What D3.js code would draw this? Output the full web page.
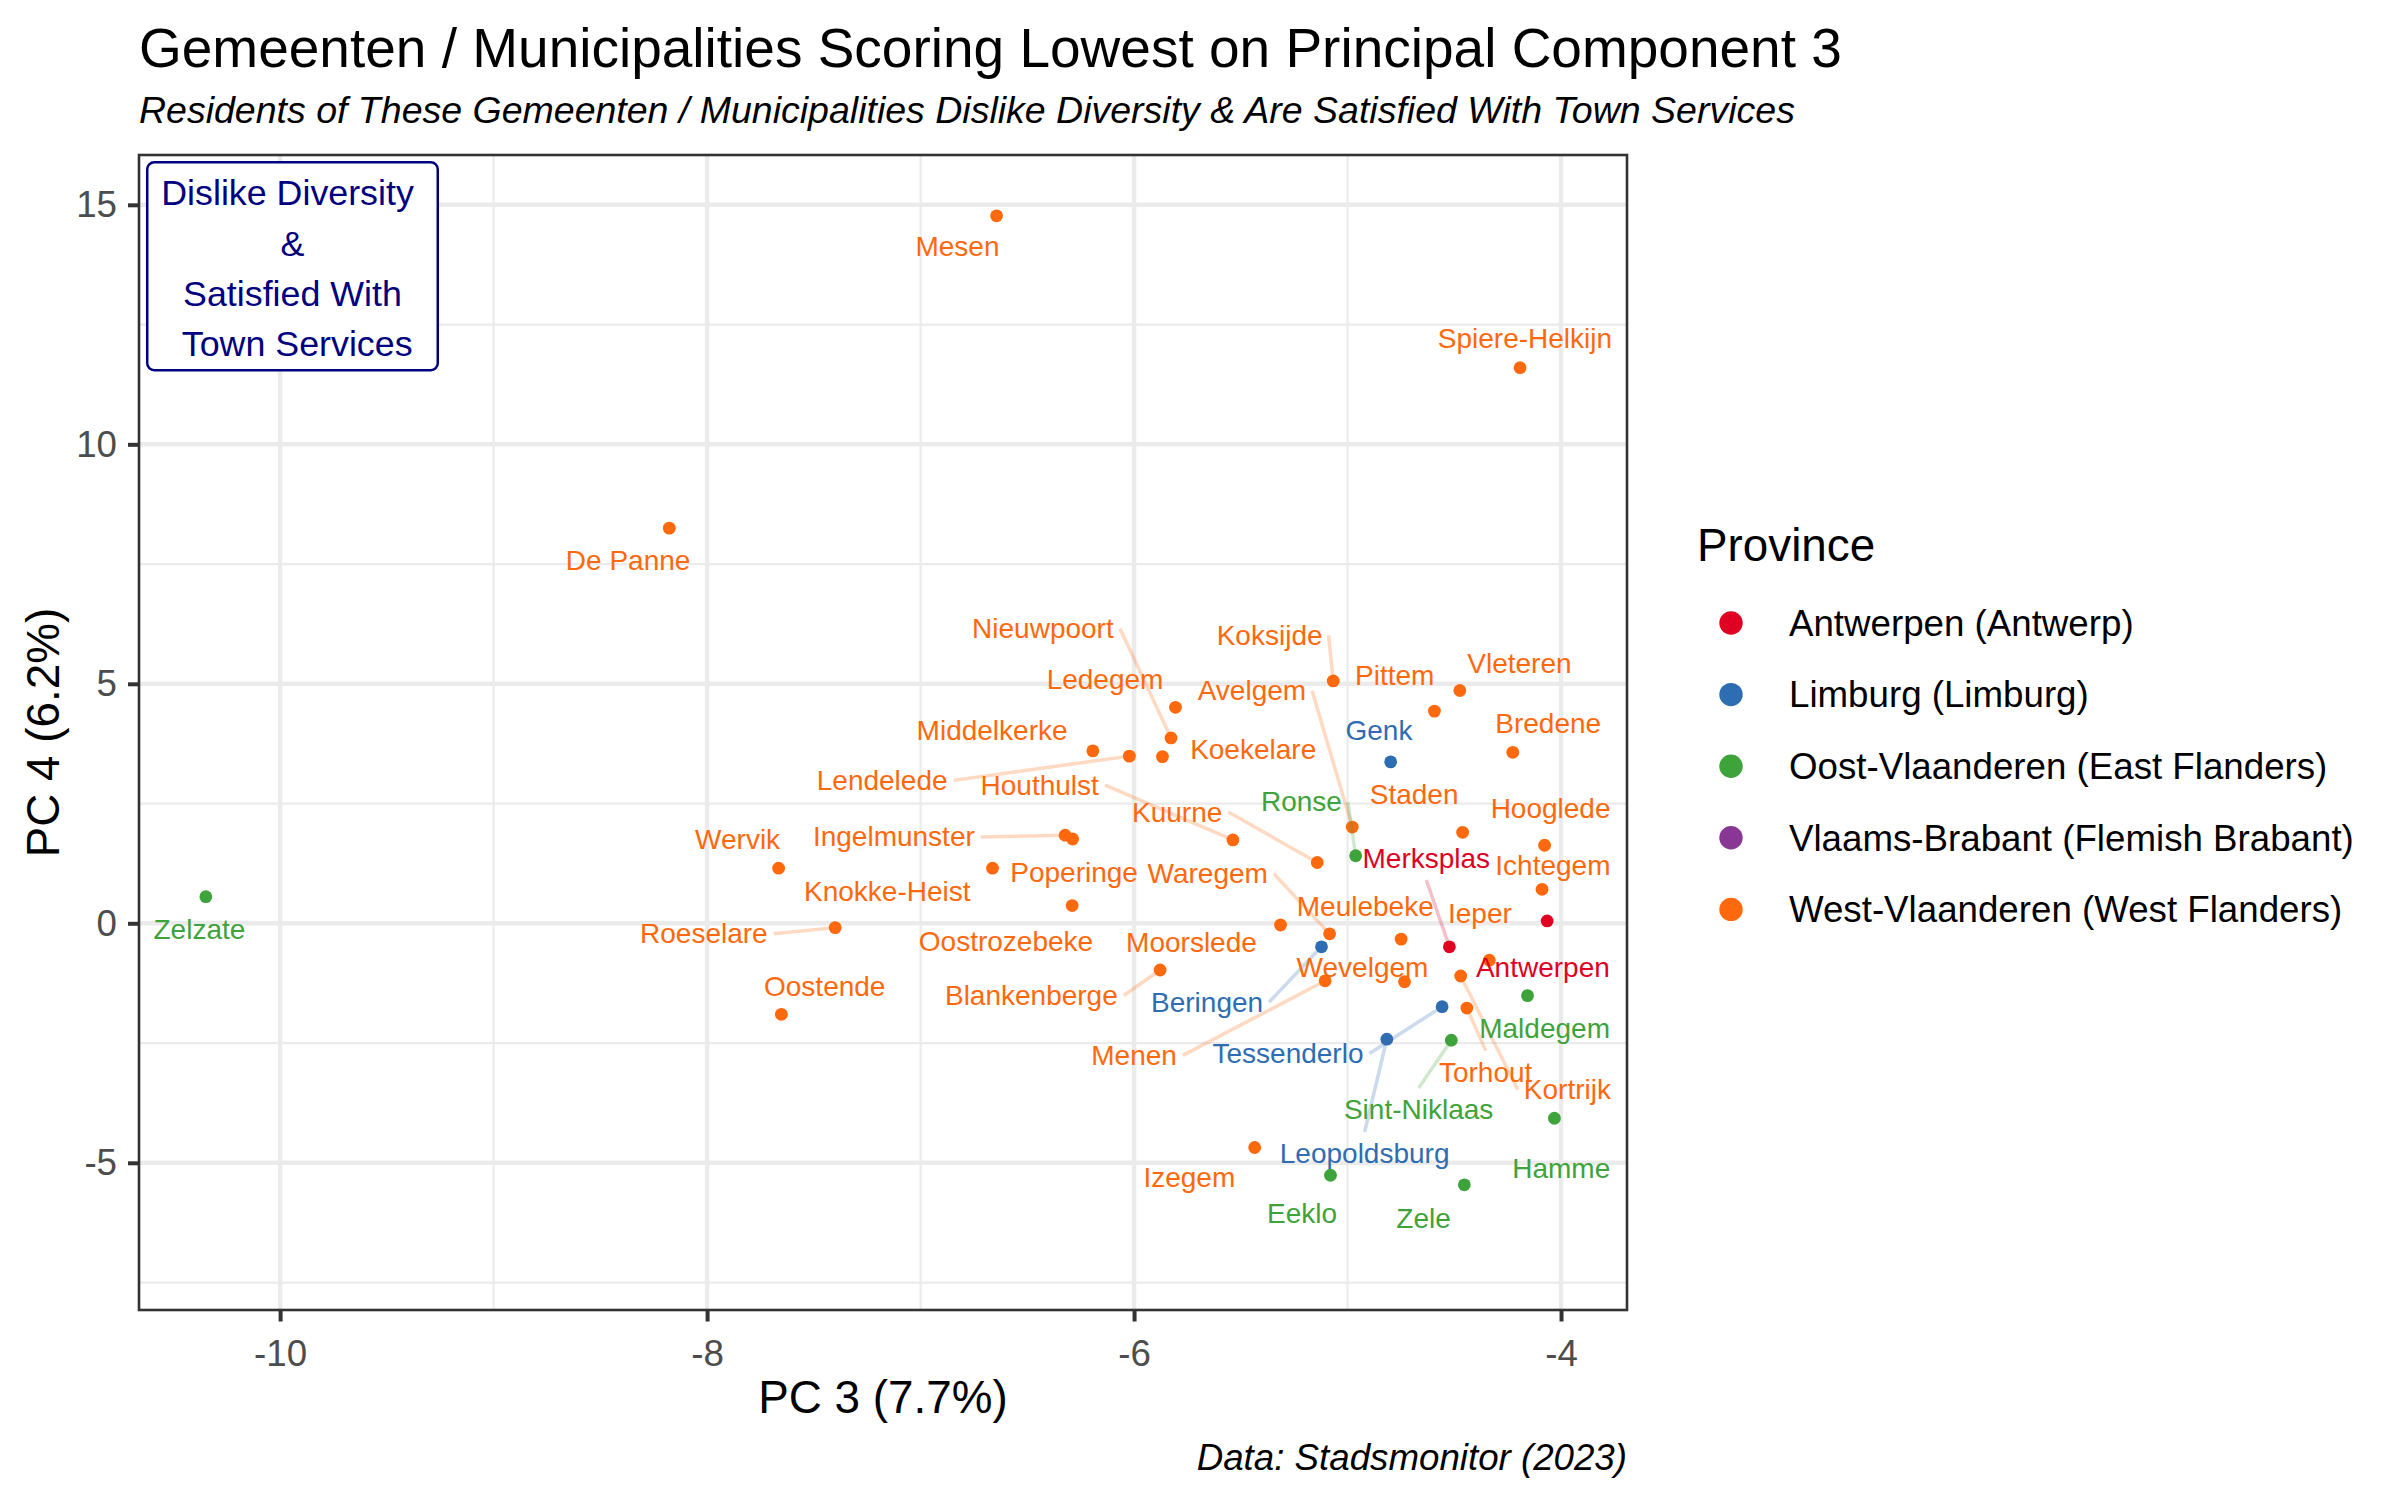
<!DOCTYPE html>
<html>
<head>
<meta charset="utf-8">
<title>Municipalities scoring lowest on PC 3</title>
<script src="https://cdn.jsdelivr.net/npm/d3@7"></script>
<style>
    body { margin: 0; background: #fff; }
    svg text { font-family: "Liberation Sans", Arial, Helvetica, sans-serif; }
</style>
</head>
<body>
<svg id="chart" width="2400" height="1500"></svg>
<script>
// provinces, in legend order
var provinceCodes = ['ANT', 'LIM', 'OVL', 'VBR', 'WVL'];
var provinceNames = ['Antwerpen (Antwerp)', 'Limburg (Limburg)', 'Oost-Vlaanderen (East Flanders)',
    'Vlaams-Brabant (Flemish Brabant)', 'West-Vlaanderen (West Flanders)'];
var provinceColours = ['#DF0022', '#2F6DB2', '#3FA33B', '#883894', '#FF690D'];

// the municipalities and their scores on PC 3 / PC 4
var municipalities = ['Mesen', 'Spiere-Helkijn', 'De Panne', 'Zelzate', 'Koksijde', 'Vleteren', 'Pittem',
    'Ledegem', 'Nieuwpoort', 'Lendelede', 'Koekelare', 'Middelkerke', 'Genk', 'Bredene', 'Staden',
    'Avelgem', 'Ronse', 'Houthulst', 'Kuurne', 'Hooglede', 'Ichtegem', 'Merksplas', 'Antwerpen',
    'Moorslede', 'Waregem', 'Meulebeke', 'Beringen', 'Ieper', 'Kortrijk', 'Wevelgem', 'Menen',
    'Blankenberge', 'Maldegem', 'Tessenderlo', 'Torhout', 'Leopoldsburg', 'Sint-Niklaas', 'Hamme',
    'Izegem', 'Eeklo', 'Zele', 'Ingelmunster', 'Poperinge', 'Wervik', 'Knokke-Heist', 'Oostrozebeke',
    'Roeselare', 'Oostende'];
var provinceOf = ['WVL', 'WVL', 'WVL', 'OVL', 'WVL', 'WVL', 'WVL',
    'WVL', 'WVL', 'WVL', 'WVL', 'WVL', 'LIM', 'WVL', 'WVL',
    'WVL', 'OVL', 'WVL', 'WVL', 'WVL', 'WVL', 'ANT', 'ANT',
    'WVL', 'WVL', 'WVL', 'LIM', 'WVL', 'WVL', 'WVL', 'WVL',
    'WVL', 'OVL', 'LIM', 'WVL', 'LIM', 'OVL', 'OVL',
    'WVL', 'OVL', 'OVL', 'WVL', 'WVL', 'WVL', 'WVL', 'WVL',
    'WVL', 'WVL'];
var pc3 = [-6.644, -4.192, -8.177, -10.348, -5.067, -4.474, -4.593,
    -5.806, -5.827, -6.022, -5.867, -6.193, -4.798, -4.226, -4.461,
    -4.978, -4.962, -5.537, -5.142, -4.077, -4.089, -4.523, -4.065,
    -5.314, -5.084, -4.749, -5.122, -4.336, -4.470, -4.733, -5.105,
    -5.878, -4.157, -4.557, -4.441, -4.816, -4.514, -4.031,
    -5.435, -5.080, -4.453, -6.323, -6.288, -7.665, -6.663, -6.290,
    -7.400, -7.652];
var pc4 = [14.77, 11.60, 8.25, 0.555, 5.06, 4.86, 4.43,
    4.51, 3.87, 3.49, 3.48, 3.60, 3.37, 3.57, 1.90,
    2.01, 1.41, 1.74, 1.27, 1.63, 0.71, -0.49, 0.05,
    -0.035, -0.22, -0.33, -0.49, -0.77, -1.10, -1.22, -1.20,
    -0.975, -1.51, -1.74, -1.77, -2.42, -2.44, -4.07,
    -4.68, -5.26, -5.46, 1.84, 1.76, 1.15, 1.15, 0.37,
    -0.09, -1.90];

// where the repelled labels ended up (label centres, in PC units)
var labelPc3 = [-6.827, -4.169, -8.370, -10.378, -5.365, -4.195, -4.779,
    -6.136, -6.427, -7.180, -5.442, -6.665, -4.853, -4.060, -4.688,
    -5.448, -5.216, -6.442, -5.798, -4.049, -4.038, -4.631, -4.085,
    -5.731, -5.655, -4.917, -5.658, -4.380, -3.970, -4.930, -6.000,
    -6.481, -4.077, -5.279, -4.353, -4.920, -4.667, -3.999,
    -5.741, -5.213, -4.644, -7.125, -6.281, -7.857, -7.156, -6.600,
    -8.015, -7.449];
var labelPc4 = [14.13, 12.22, 7.58, -0.12, 6.02, 5.43, 5.18,
    5.10, 6.16, 2.99, 3.64, 4.04, 4.04, 4.18, 2.70,
    4.86, 2.54, 2.89, 2.33, 2.40, 1.22, 1.36, -0.91,
    -0.40, 1.04, 0.35, -1.64, 0.21, -3.47, -0.91, -2.75,
    -1.50, -2.19, -2.71, -3.10, -4.80, -3.88, -5.11,
    -5.30, -6.05, -6.16, 1.81, 1.06, 1.75, 0.68, -0.38,
    -0.21, -1.32];
// labels far enough from their point to get a connecting segment
var withSegment = ['Koksijde', 'Nieuwpoort', 'Lendelede', 'Avelgem', 'Ronse', 'Houthulst', 'Kuurne',
    'Merksplas', 'Waregem', 'Beringen', 'Kortrijk', 'Menen', 'Blankenberge', 'Tessenderlo', 'Torhout',
    'Leopoldsburg', 'Sint-Niklaas', 'Ingelmunster', 'Roeselare'];

var xTicks = [-10, -8, -6, -4];
var xMinor = [-9, -7, -5];
var yTicks = [-5, 0, 5, 10, 15];
var yMinor = [-7.5, -2.5, 2.5, 7.5, 12.5];

var boxLines = ['Dislike Diversity ', '&', 'Satisfied With', ' Town Services'];

window.onload = function () {
    var svg = d3.select('#chart');
    var panel = { left: 139, right: 1627, top: 155, bottom: 1310 };

    var x = d3.scaleLinear().domain([-10.661, -3.691]).range([panel.left, panel.right]);
    var y = d3.scaleLinear().domain([-8.073, 16.04]).range([panel.bottom, panel.top]);
    var colour = d3.scaleOrdinal().domain(provinceCodes).range(provinceColours);
    var idx = d3.range(municipalities.length);

    // grid
    var grid = svg.append('g').attr('stroke', '#EBEBEB');
    grid.selectAll('.xminor').data(xMinor).enter().append('line')
        .attr('x1', x).attr('x2', x).attr('y1', panel.top).attr('y2', panel.bottom)
        .attr('stroke-width', 2.2);
    grid.selectAll('.yminor').data(yMinor).enter().append('line')
        .attr('y1', y).attr('y2', y).attr('x1', panel.left).attr('x2', panel.right)
        .attr('stroke-width', 2.2);
    grid.selectAll('.xmajor').data(xTicks).enter().append('line')
        .attr('x1', x).attr('x2', x).attr('y1', panel.top).attr('y2', panel.bottom)
        .attr('stroke-width', 4.4);
    grid.selectAll('.ymajor').data(yTicks).enter().append('line')
        .attr('y1', y).attr('y2', y).attr('x1', panel.left).attr('x2', panel.right)
        .attr('stroke-width', 4.4);

    // axes
    var xAxis = svg.append('g')
        .attr('transform', 'translate(0,' + panel.bottom + ')')
        .call(d3.axisBottom(x).tickValues(xTicks).tickSize(11.5).tickPadding(18.5).tickFormat(String));
    var yAxis = svg.append('g')
        .attr('transform', 'translate(' + panel.left + ',0)')
        .call(d3.axisLeft(y).tickValues(yTicks).tickSize(11).tickPadding(11).tickFormat(String));
    [xAxis, yAxis].forEach(function (a) {
        a.select('.domain').remove();
        a.selectAll('line').attr('stroke', '#333333').attr('stroke-width', 4);
        a.selectAll('text').attr('fill', '#4D4D4D').style('font-size', '36.7px');
    });

    // points
    svg.append('g').selectAll('circle').data(idx).enter()
        .append('circle')
        .attr('cx', function (i) { return x(pc3[i]); })
        .attr('cy', function (i) { return y(pc4[i]); })
        .attr('r', 6.4)
        .attr('fill', function (i) { return colour(provinceOf[i]); });

    // labels, then segments underneath them
    var segLayer = svg.append('g');
    var labels = svg.append('g').selectAll('text').data(idx).enter()
        .append('text')
        .attr('x', function (i) { return x(labelPc3[i]); })
        .attr('y', function (i) { return y(labelPc4[i]); })
        .attr('dy', '0.35em')
        .attr('text-anchor', 'middle')
        .style('font-size', '28px')
        .attr('fill', function (i) { return colour(provinceOf[i]); })
        .text(function (i) { return municipalities[i]; });

    labels.each(function (i) {
        if (withSegment.indexOf(municipalities[i]) < 0) return;
        var b = this.getBBox();
        var pad = 6;
        var px = x(pc3[i]), py = y(pc4[i]);
        var cx = b.x + b.width / 2, cy = b.y + b.height / 2;
        // ggrepel joins to the nearest side midpoint of the label box
        var ends = [
            [b.x - pad, cy], [b.x + b.width + pad, cy],
            [cx, b.y - pad], [cx, b.y + b.height + pad]
        ];
        var best = ends[0], bestD = Infinity;
        ends.forEach(function (e) {
            var d = Math.hypot(e[0] - px, e[1] - py);
            if (d < bestD) { bestD = d; best = e; }
        });
        segLayer.append('line')
            .attr('x1', px).attr('y1', py)
            .attr('x2', best[0]).attr('y2', best[1])
            .attr('stroke', colour(provinceOf[i]))
            .attr('stroke-opacity', 0.25)
            .attr('stroke-width', 3.5);
    });

    // annotation label
    var note = svg.append('g')
        .attr('transform', 'translate(' + x(-9.942) + ',' + y(13.716) + ')');
    var noteBox = note.append('rect');
    var noteText = note.append('text')
        .attr('text-anchor', 'middle')
        .attr('fill', '#000080')
        .style('font-size', '35.8px')
        .style('white-space', 'pre');
    noteText.selectAll('tspan').data(boxLines).enter()
        .append('tspan')
        .attr('x', 0)
        .attr('y', function (d, i) { return -61 + i * 50.3; })
        .text(function (d) { return d; });
    var nb = noteText.node().getBBox();
    noteBox
        .attr('x', nb.x - 14).attr('y', nb.y - 11)
        .attr('width', nb.width + 28).attr('height', nb.height + 17)
        .attr('rx', 7).attr('ry', 7)
        .attr('fill', '#fff').attr('stroke', '#000080').attr('stroke-width', 2.5);

    // panel border
    svg.append('rect')
        .attr('x', panel.left).attr('y', panel.top)
        .attr('width', panel.right - panel.left).attr('height', panel.bottom - panel.top)
        .attr('fill', 'none').attr('stroke', '#333333').attr('stroke-width', 2.6);

    // titles
    svg.append('text').attr('x', panel.left).attr('y', 67)
        .style('font-size', '55px').attr('fill', '#000')
        .text('Gemeenten / Municipalities Scoring Lowest on Principal Component 3');
    svg.append('text').attr('x', panel.left).attr('y', 123)
        .style('font-size', '37.5px').style('font-style', 'italic').attr('fill', '#000')
        .text('Residents of These Gemeenten / Municipalities Dislike Diversity & Are Satisfied With Town Services');
    svg.append('text').attr('x', (panel.left + panel.right) / 2).attr('y', 1413)
        .attr('text-anchor', 'middle').style('font-size', '45.8px').attr('fill', '#000')
        .text('PC 3 (7.7%)');
    svg.append('text')
        .attr('transform', 'translate(43,' + (panel.top + panel.bottom) / 2 + ') rotate(-90)')
        .attr('dy', '0.35em')
        .attr('text-anchor', 'middle').style('font-size', '45.8px').attr('fill', '#000')
        .text('PC 4 (6.2%)');
    svg.append('text').attr('x', panel.right).attr('y', 1470)
        .attr('text-anchor', 'end').style('font-size', '36.7px').style('font-style', 'italic')
        .attr('fill', '#000')
        .text('Data: Stadsmonitor (2023)');

    // legend
    var legend = svg.append('g').attr('transform', 'translate(1697,0)');
    legend.append('text').attr('x', 0).attr('y', 545).attr('dy', '0.35em')
        .style('font-size', '45.8px').attr('fill', '#000').text('Province');
    var items = legend.selectAll('.item').data(provinceCodes).enter()
        .append('g')
        .attr('transform', function (d, i) { return 'translate(0,' + (623 + i * 71.6) + ')'; });
    items.append('circle').attr('cx', 34).attr('cy', 0).attr('r', 11.7)
        .attr('fill', function (d) { return colour(d); });
    items.append('text').attr('x', 92).attr('y', 0).attr('dy', '0.35em')
        .style('font-size', '36.7px').attr('fill', '#000')
        .text(function (d, i) { return provinceNames[i]; });
};
</script>
</body>
</html>
